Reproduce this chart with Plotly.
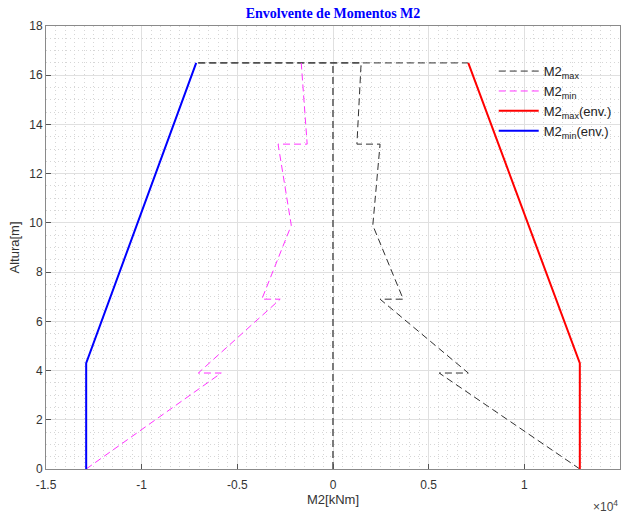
import plotly.graph_objects as go

# Data (x in kNm, y in m)
max_x = [12900, 5550, 7070, 2460, 3670, 2080, 2460, 1250, 1470, -7150, 7070]
max_y = [0, 3.9, 3.9, 6.9, 6.9, 9.9, 13.2, 13.2, 16.5, 16.5, 16.5]
min_x = [-12900, -5840, -7040, -2760, -3720, -2180, -2870, -1350, -1660]
min_y = [0, 3.9, 3.9, 6.9, 6.9, 9.9, 13.2, 13.2, 16.5]
env_max_x = [12900, 12900, 7070]
env_max_y = [0, 4.3, 16.5]
env_min_x = [-12900, -12900, -7150]
env_min_y = [0, 4.3, 16.5]
axis0_x = [0, 0]
axis0_y = [0, 16.5]

xtick_vals = [-15000, -10000, -5000, 0, 5000, 10000, 15000]
xtick_text = ["-1.5", "-1", "-0.5", "0", "0.5", "1", "1.5"]
ytick_vals = [0, 2, 4, 6, 8, 10, 12, 14, 16, 18]

fig = go.Figure()
fig.add_trace(go.Scatter(x=axis0_x, y=axis0_y, mode="lines", showlegend=False,
                         line=dict(color="#7a7a7a", width=2, dash="7px,4px"), hoverinfo="skip"))
fig.add_trace(go.Scatter(x=max_x, y=max_y, mode="lines", name="M2<sub>max</sub>",
                         line=dict(color="#303030", width=1, dash="7px,4px")))
fig.add_trace(go.Scatter(x=min_x, y=min_y, mode="lines", name="M2<sub>min</sub>",
                         line=dict(color="#ff33ff", width=1, dash="7px,4px")))
fig.add_trace(go.Scatter(x=env_max_x, y=env_max_y, mode="lines", name="M2<sub>max</sub>(env.)",
                         line=dict(color="#ff0000", width=2)))
fig.add_trace(go.Scatter(x=env_min_x, y=env_min_y, mode="lines", name="M2<sub>min</sub>(env.)",
                         line=dict(color="#0000ff", width=2)))

axis_common = dict(showline=True, linecolor="#8a8a8a", linewidth=1, mirror=True,
                   ticks="inside", ticklen=5, tickcolor="#555555", automargin=False,
                   showgrid=True, gridcolor="#e0e0e0", gridwidth=1, zeroline=False,
                   tickfont=dict(family="Liberation Sans, Arial", size=12, color="#333333"))

fig.update_xaxes(range=[-15000, 15000], tickvals=xtick_vals, ticktext=xtick_text,
                 ticklabelstandoff=5,
                 title=dict(text="M2[kNm]", font=dict(family="Liberation Sans, Arial", size=13, color="#333333"), standoff=2),
                 minor=dict(dtick=500, showgrid=True, gridcolor="#d6d6d6", griddash="1px,3px", gridwidth=1, ticks=""),
                 **axis_common)
fig.update_yaxes(range=[0, 18], tickvals=ytick_vals,
                 title=dict(text="Altura[m]", font=dict(family="Liberation Sans, Arial", size=13, color="#333333"), standoff=6),
                 minor=dict(dtick=0.5, showgrid=True, gridcolor="#d6d6d6", griddash="1px,3px", gridwidth=1, ticks=""),
                 **axis_common)

fig.add_annotation(text="×10<sup>4</sup>", xref="paper", yref="paper", x=1.0, y=-0.062,
                   xanchor="right", yanchor="top", showarrow=False,
                   font=dict(family="Liberation Sans, Arial", size=12, color="#444444"))

fig.update_layout(
    width=625, height=518,
    margin=dict(l=46, r=5, t=26, b=49),
    paper_bgcolor="white", plot_bgcolor="white",
    title=dict(text="<b>Envolvente de Momentos M2</b>", x=0.5, xref="paper", xanchor="center",
               y=0.975, yref="container", yanchor="middle", automargin=False,
               font=dict(family="Liberation Serif, Times New Roman", size=14, color="#0000ff")),
    legend=dict(x=0.78, y=0.932, xanchor="left", yanchor="top", bgcolor="rgba(0,0,0,0)",
                borderwidth=0, itemwidth=40, tracegroupgap=0,
                font=dict(family="Liberation Sans, Arial", size=13, color="#222222")),
    showlegend=True,
)

fig.write_html("out.html", config={"displayModeBar": False},
               post_script="document.body.style.margin='0px';document.body.style.padding='0px';")
